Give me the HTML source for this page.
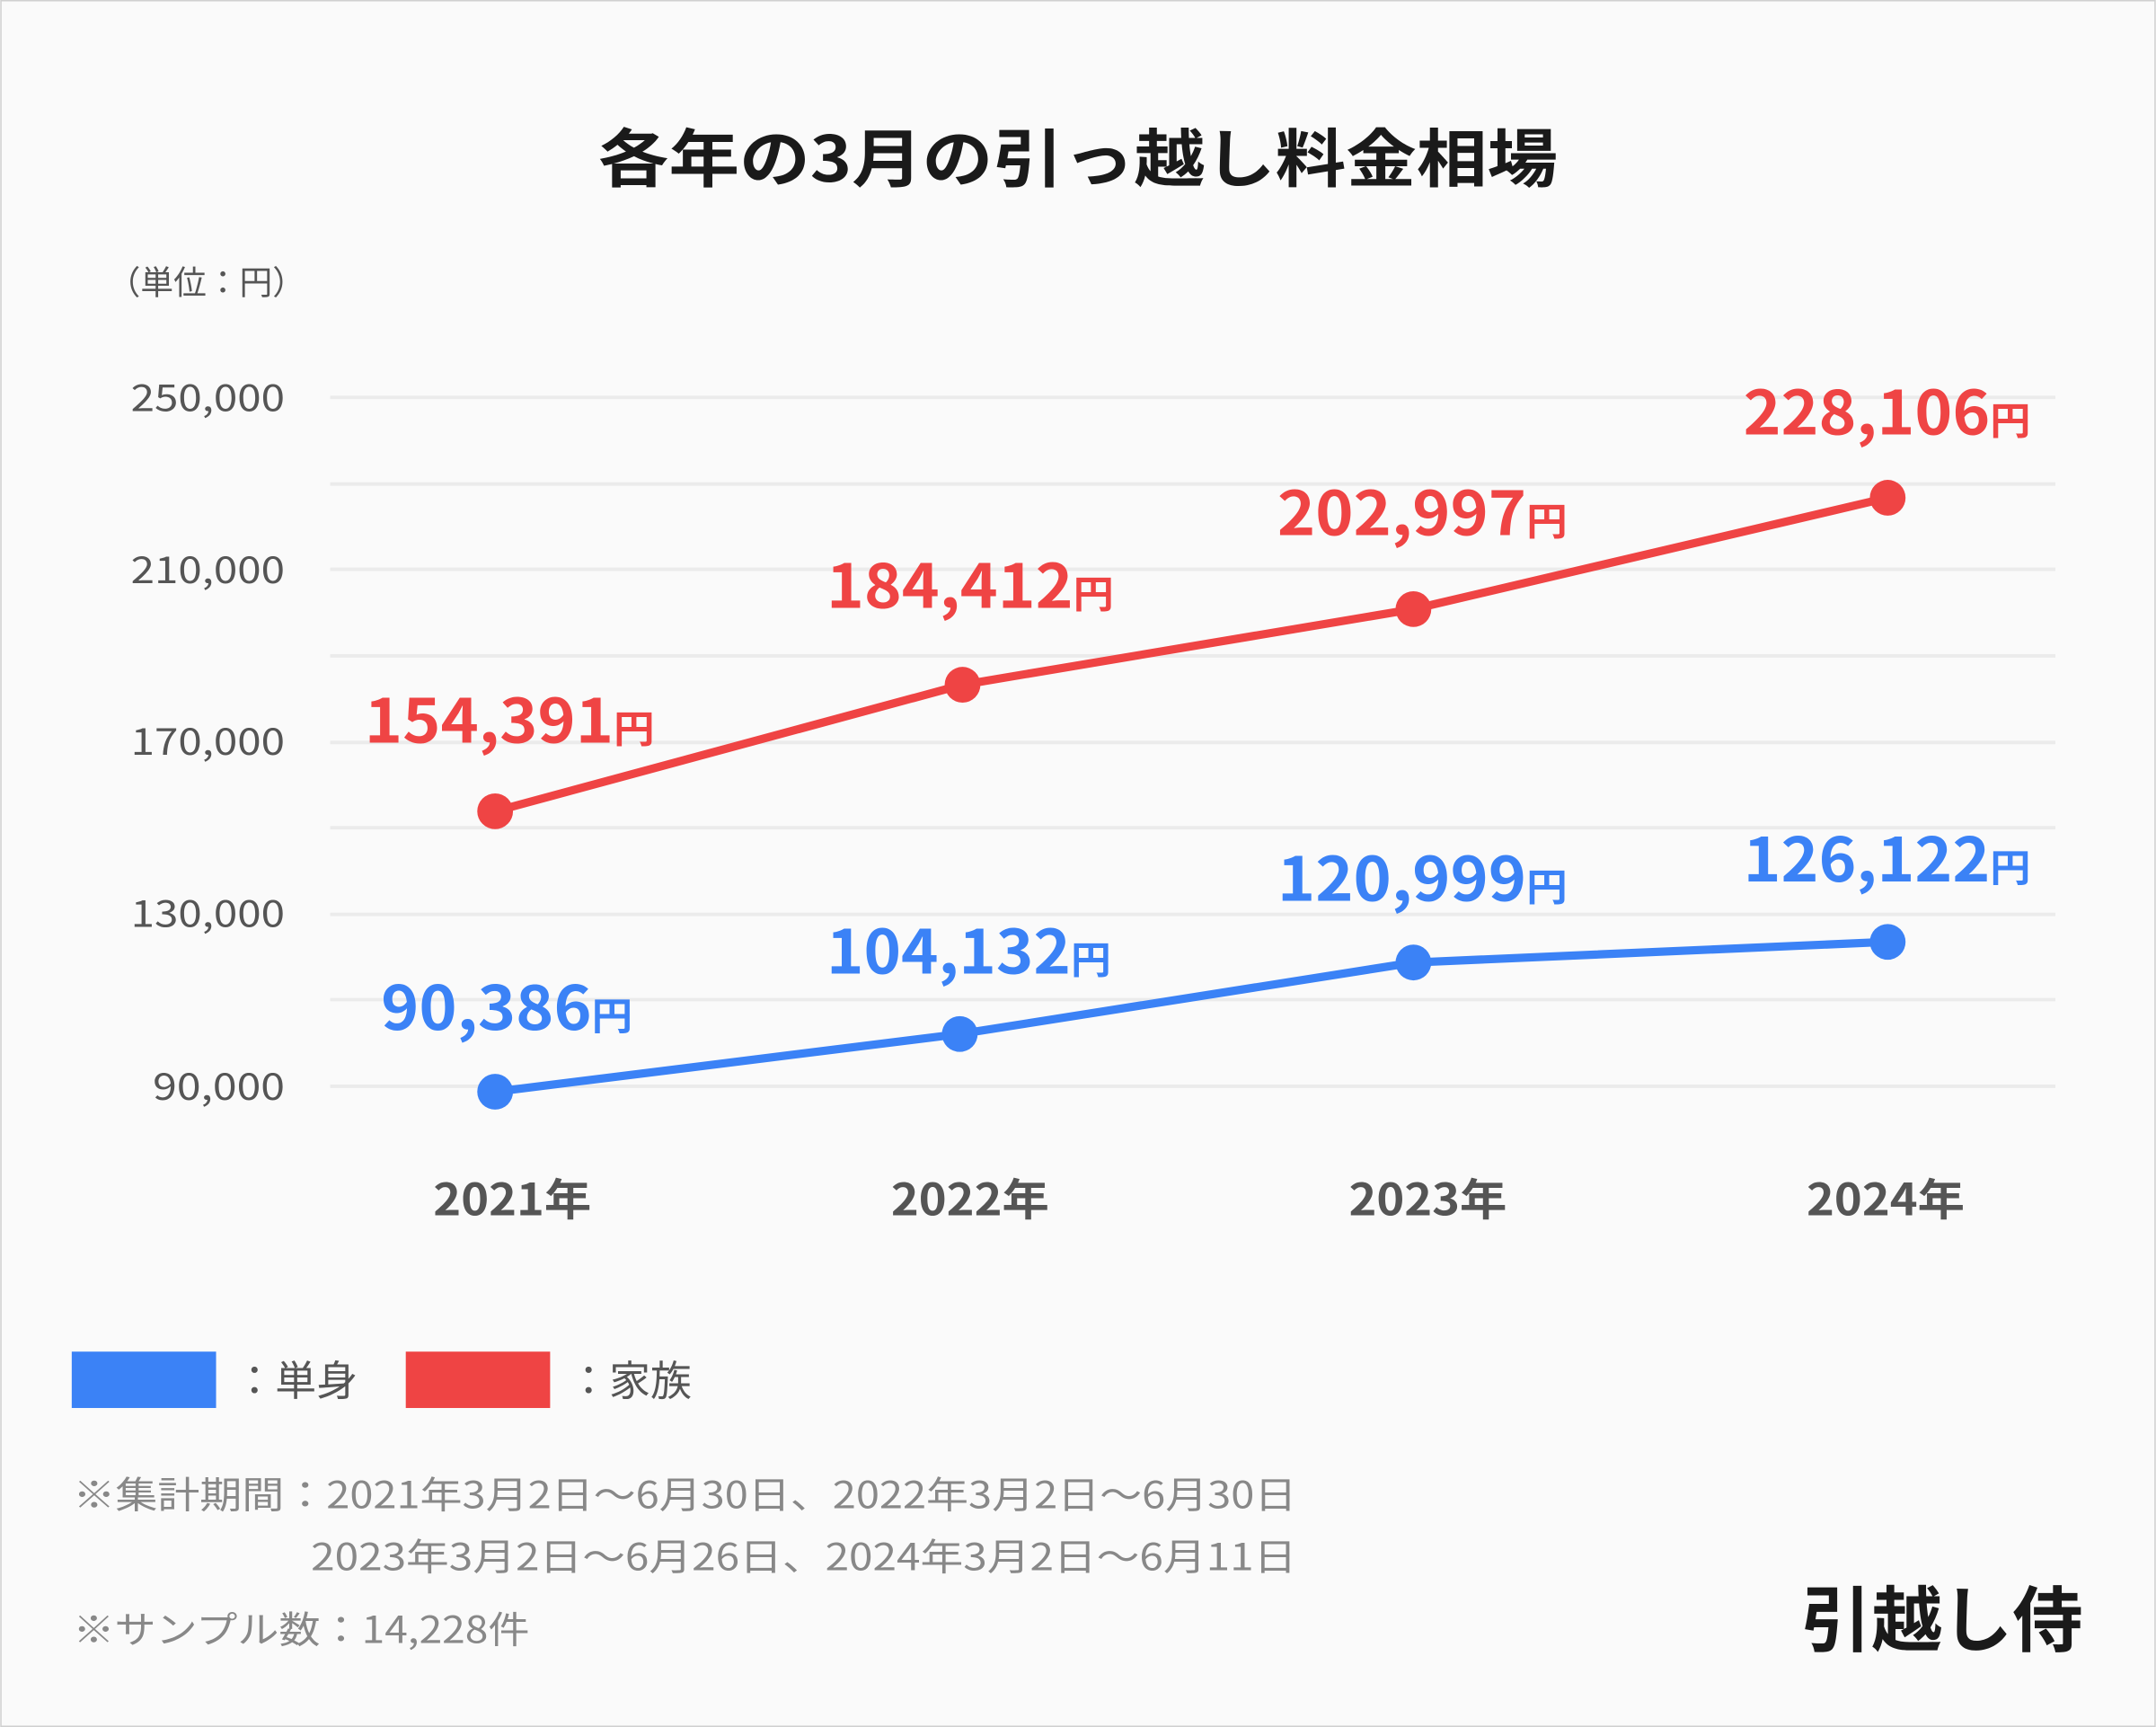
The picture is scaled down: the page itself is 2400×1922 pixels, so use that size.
<!DOCTYPE html>
<html><head><meta charset="utf-8"><style>
html,body{margin:0;padding:0;background:#fafafa;}
svg{display:block;}
text{font-family:"Noto Sans CJK JP","Liberation Sans",sans-serif;}
</style></head><body>
<svg width="2400" height="1922" viewBox="0 0 1568 1256" xmlns="http://www.w3.org/2000/svg">
<rect x="0.5" y="0.5" width="1567" height="1255" fill="#fafafa" stroke="#d0d0d0"/>
<text x="435" y="132" textLength="698" lengthAdjust="spacingAndGlyphs" font-size="46" font-weight="bold" fill="#1a1a1a">各年の3月の引っ越し料金相場</text>
<text x="78" y="214" font-size="24" fill="#555">（単位：円）</text>
<g stroke="#ebebeb" stroke-width="2.5">
<line x1="240" y1="289" x2="1495" y2="289"/><line x1="240" y1="352" x2="1495" y2="352"/>
<line x1="240" y1="414" x2="1495" y2="414"/><line x1="240" y1="477" x2="1495" y2="477"/>
<line x1="240" y1="540" x2="1495" y2="540"/><line x1="240" y1="602" x2="1495" y2="602"/>
<line x1="240" y1="665" x2="1495" y2="665"/><line x1="240" y1="727" x2="1495" y2="727"/>
<line x1="240" y1="790" x2="1495" y2="790"/>
</g>
<g font-size="27" fill="#555">
<text x="95" y="299" textLength="112" lengthAdjust="spacingAndGlyphs">250,000</text>
<text x="95" y="424" textLength="112" lengthAdjust="spacingAndGlyphs">210,000</text>
<text x="95" y="549" textLength="112" lengthAdjust="spacingAndGlyphs">170,000</text>
<text x="95" y="674" textLength="112" lengthAdjust="spacingAndGlyphs">130,000</text>
<text x="111" y="800" textLength="96" lengthAdjust="spacingAndGlyphs">90,000</text>
</g>
<polyline points="360,590 700,498 1028,443 1373,362" fill="none" stroke="#ef4444" stroke-width="6"/>
<polyline points="360,794 698,752 1028,700 1373,685" fill="none" stroke="#3b82f6" stroke-width="6"/>
<g fill="#ef4444"><circle cx="360" cy="590" r="13"/><circle cx="700" cy="498" r="13"/><circle cx="1028" cy="443" r="13"/><circle cx="1373" cy="362" r="13"/></g>
<g fill="#3b82f6"><circle cx="360" cy="794" r="13"/><circle cx="698" cy="752" r="13"/><circle cx="1028" cy="700" r="13"/><circle cx="1373" cy="685" r="13"/></g>
<g font-weight="bold" font-size="44" fill="#ef4444">
<text x="265" y="540" textLength="211" lengthAdjust="spacingAndGlyphs">154,391<tspan font-size="28">円</tspan></text>
<text x="601" y="442" textLength="209" lengthAdjust="spacingAndGlyphs">184,412<tspan font-size="28">円</tspan></text>
<text x="929" y="389" textLength="211" lengthAdjust="spacingAndGlyphs">202,997<tspan font-size="28">円</tspan></text>
<text x="1268" y="316" textLength="209" lengthAdjust="spacingAndGlyphs">228,106<tspan font-size="28">円</tspan></text>
</g>
<g font-weight="bold" font-size="44" fill="#3b82f6">
<text x="277" y="749" textLength="183" lengthAdjust="spacingAndGlyphs">90,386<tspan font-size="28">円</tspan></text>
<text x="601" y="708" textLength="207" lengthAdjust="spacingAndGlyphs">104,132<tspan font-size="28">円</tspan></text>
<text x="929" y="655" textLength="211" lengthAdjust="spacingAndGlyphs">120,999<tspan font-size="28">円</tspan></text>
<text x="1268" y="641" textLength="209" lengthAdjust="spacingAndGlyphs">126,122<tspan font-size="28">円</tspan></text>
</g>
<g font-weight="bold" font-size="32" fill="#555">
<text x="315" y="884" textLength="115" lengthAdjust="spacingAndGlyphs">2021年</text>
<text x="648" y="884" textLength="115" lengthAdjust="spacingAndGlyphs">2022年</text>
<text x="981" y="884" textLength="115" lengthAdjust="spacingAndGlyphs">2023年</text>
<text x="1314" y="884" textLength="115" lengthAdjust="spacingAndGlyphs">2024年</text>
</g>
<rect x="52" y="983" width="105" height="41" fill="#3b82f6"/>
<rect x="295" y="983" width="105" height="41" fill="#ef4444"/>
<g font-size="30" fill="#555">
<text x="170" y="1015">：単身</text><text x="413" y="1015">：家族</text>
</g>
<g font-size="27" fill="#888">
<text x="53" y="1097" textLength="890" lengthAdjust="spacingAndGlyphs">※集計期間：2021年3月2日～6月30日、2022年3月2日～6月30日</text>
<text x="226" y="1142" textLength="717" lengthAdjust="spacingAndGlyphs">2023年3月2日～6月26日、2024年3月2日～6月11日</text>
<text x="53" y="1195" textLength="332" lengthAdjust="spacingAndGlyphs">※サンプル数：14,228件</text>
</g>
<text x="1310" y="1197" textLength="205" lengthAdjust="spacingAndGlyphs" font-size="52" font-weight="bold" fill="#1a1a1a">引越し侍</text>
</svg>
</body></html>
